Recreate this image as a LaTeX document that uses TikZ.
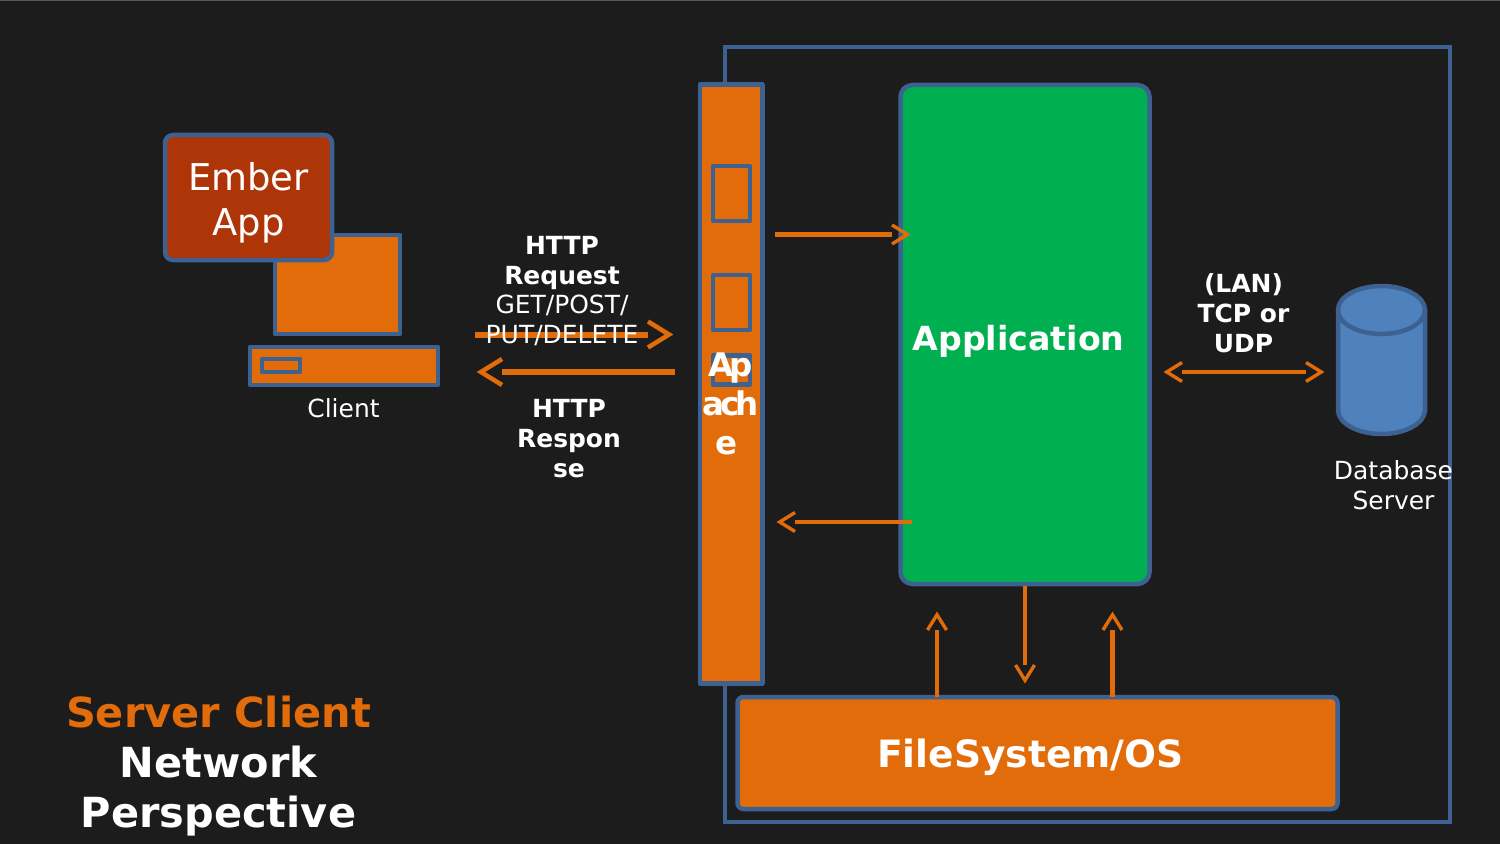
\documentclass[tikz,border=0pt]{standalone}
\usepackage{fontspec}
\setmainfont{DejaVu Sans}
\usetikzlibrary{calc,positioning,arrows.meta}
\definecolor{bgdark}{HTML}{1C1C1C}
\definecolor{edgeblue}{HTML}{3D6190}
\definecolor{fillorange}{HTML}{E36C0A}
\definecolor{fillrust}{HTML}{AE3508}
\definecolor{fillgreen}{HTML}{00B050}
\definecolor{fillblue}{HTML}{4F81BD}
% open head, the line stops level with the ends of its barbs
\pgfdeclarearrow{
  name=OpenVee,
  parameters={\the\pgfarrowlength,\the\pgfarrowwidth,\the\pgflinewidth},
  setup code={
    \pgfarrowssettipend{0pt}
    \pgfarrowssetlineend{-\pgfarrowlength}
    \pgfarrowssetvisualbackend{-\pgfarrowlength}
    \pgfarrowssetbackend{-\pgfarrowlength}
    \pgfarrowshullpoint{0pt}{0pt}
    \pgfarrowshullpoint{-\pgfarrowlength}{.5\pgfarrowwidth}
    \pgfarrowshullpoint{-\pgfarrowlength}{-.5\pgfarrowwidth}
    \pgfarrowssavethe\pgfarrowlength
    \pgfarrowssavethe\pgfarrowwidth
  },
  drawing code={
    \pgfsetdash{}{0pt}\pgfsetmiterjoin\pgfsetbuttcap
    \pgfsetlinewidth{.75\pgflinewidth}
    \pgfpathmoveto{\pgfqpoint{-\pgfarrowlength}{.5\pgfarrowwidth}}
    \pgfpathlineto{\pgfqpoint{-1.1\pgflinewidth}{0pt}}
    \pgfpathlineto{\pgfqpoint{-\pgfarrowlength}{-.5\pgfarrowwidth}}
    \pgfusepathqstroke
  },
  defaults={length=3.8mm,width=3.8mm}
}
\tikzset{
  box/.style={draw=edgeblue, fill=fillorange, line width=0.9mm, inner sep=0pt, line join=round},
  roundbox/.style={box, rounded corners=2.4mm},
  lbl/.style={text=white, inner sep=0pt, align=center, font=\fontsize{14.2}{17}\selectfont},
  bwire/.style={draw=fillorange, line width=1.2mm, -{OpenVee[length=5.2mm,width=5.2mm]}},
  wire/.style={draw=fillorange, line width=0.9mm, -{OpenVee}},
  dwire/.style={draw=fillorange, line width=0.9mm, {OpenVee}-{OpenVee}}
}
\begin{document}
\begin{tikzpicture}[x=0.2mm,y=-0.2mm]
  \useasboundingbox (0,0) rectangle (1500,844);
  \fill[bgdark] (0,0) rectangle (1500,844);
  \draw[gray!70!black,line width=0.2mm] (0,0.5) -- (1500,0.5);
  % outer frame
  \draw[edgeblue,line width=0.85mm] (725,47) rectangle (1450,822);
  % client
  \node[box, minimum width=25mm, minimum height=19.8mm] (monitor) at (337.5,284.5) {};
  \node[box, minimum width=37.6mm, minimum height=7.6mm] (base) at (344,366) {};
  \node[box, minimum width=7.6mm, minimum height=2.6mm] (slot) at (281,365.5) {};
  \node[roundbox, fill=fillrust, minimum width=33.4mm, minimum height=25mm, rounded corners=1.6mm] (ember) at (248.5,197.5) {};
  % apache
  \node[box, minimum width=12.5mm, minimum height=119.8mm] (apache) at (731,384) {};
  \node[box, minimum width=7.4mm, minimum height=11mm] (slota) at (731.5,193.5) {};
  \node[box, minimum width=7.4mm, minimum height=11mm] (slotb) at (731.5,302.5) {};
  \node[box, minimum width=7.4mm, minimum height=5.8mm] (slotc) at (731.5,370) {};
  % application and below
  \node[roundbox, fill=fillgreen, minimum width=49.8mm, minimum height=99.8mm] (appl) at (1025,334.5) {};
  \node[box, minimum width=120mm, minimum height=22.4mm, rounded corners=1.2mm] (fsos) at (1037.5,753) {};
  % database
  \draw[edgeblue,fill=fillblue,line width=0.9mm] (1338,310) -- (1338,410)
    arc[start angle=180,end angle=360,x radius=43.5,y radius=-24] -- (1425,310)
    arc[start angle=0,end angle=180,x radius=43.5,y radius=-24];
  \draw[edgeblue,line width=0.9mm] (1338,310) arc[start angle=180,end angle=360,x radius=43.5,y radius=-24];
  % connectors
  \coordinate (reqa) at (475,334.5);
  \coordinate (reqb) at (674,334.5);
  \coordinate (respa) at (675,372);
  \coordinate (respb) at (476,372);
  \coordinate (ina) at (775,234.5);
  \coordinate (inb) at (911,234.5);
  \coordinate (outa) at (912,522);
  \coordinate (outb) at (776,522);
  \coordinate (lana) at (1163,372);
  \coordinate (lanb) at (1325,372);
  \coordinate (fsa) at (937,697);
  \coordinate (fsb) at (937,611);
  \coordinate (fsc) at (1112.5,697);
  \coordinate (fsd) at (1112.5,611);
  \coordinate (fse) at (1025,684);
  \draw[bwire] (reqa) -- (reqb);
  \draw[bwire] (respa) -- (respb);
  \draw[wire] (ina) -- (inb);
  \draw[wire] (outa) -- (outb);
  \draw[dwire] (lana) -- (lanb);
  \draw[wire] (fsa) -- (fsb);
  \draw[wire] (fsc) -- (fsd);
  \draw[wire] (appl.south) -- (fse);
  % labels
  \node[lbl, font=\fontsize{21}{25.5}\selectfont] (emberlbl) at (248.5,203) {Ember\\App};
  \node[lbl] (client) at (343.5,408) {Client};
  \node[lbl, font=\fontsize{18.5}{22.4}\selectfont\bfseries] (apachelbl) at (730.5,404)
    {A\kern-2.2pt p\\a\kern-2.4pt c\kern-2.4pt h\\\kern-5pt e};
  \node[lbl, font=\fontsize{18.9}{22}\selectfont\bfseries] (appllbl) at (1018.5,341) {Application};
  \node[lbl, font=\fontsize{21.4}{26}\selectfont\bfseries] (fsoslbl) at (1030.5,757) {FileSystem/OS};
  \node[lbl] (dblbl) at (1393.5,485) {Database\\Server};
  \node[lbl] (reqlbl) at (562,291) {\bfseries HTTP\\\bfseries Request\\GET/POST/\\PUT/DELETE};
  \node[lbl, font=\fontsize{14.2}{17}\selectfont\bfseries] (resplbl) at (569,438.5) {HTTP\\Respon\\se};
  \node[lbl, font=\fontsize{14.2}{17}\selectfont\bfseries] (lanlbl) at (1243.5,313) {(LAN)\\TCP or\\UDP};
  \node[lbl, font=\fontsize{23.6}{28.3}\selectfont\bfseries] (title) at (218.5,766)
    {\textcolor{fillorange}{Server Client}\\Network\\Perspective};
\end{tikzpicture}
\end{document}
